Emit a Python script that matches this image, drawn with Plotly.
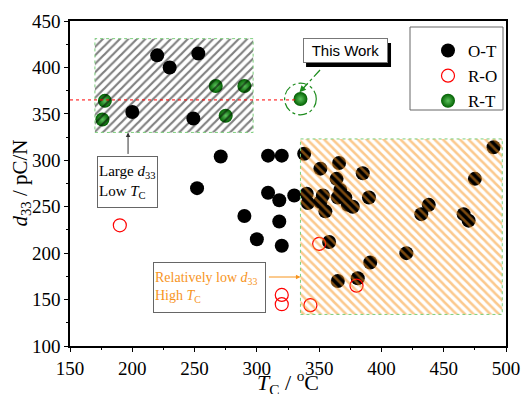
import plotly.graph_objects as go

# ---------------- data ----------------
ot_tc = [220, 230, 253, 200, 249,
         271, 252, 309, 320, 309, 318, 330, 290, 318, 300, 320,
         338, 351, 366, 385, 364, 340, 341, 353, 355, 351, 367, 365, 371, 373, 377, 390,
         358, 420, 391, 365, 381, 438, 432, 466, 470, 475, 490]
ot_d33 = [413, 400, 415, 352, 345,
          304, 270, 305, 305, 265, 257, 262, 240, 234, 215, 208,
          307, 291, 297, 286, 280, 264, 254, 262, 245, 255, 268, 260, 260, 252, 250, 260,
          212, 200, 190, 170, 173, 252, 242, 242, 235, 280, 314]

ro_tc = [190, 320, 320, 343, 350, 380]
ro_d33 = [230, 155, 145, 144, 210, 165]

rt_tc = [178, 176, 267, 290, 275, 335]
rt_d33 = [364, 344, 380, 380, 348, 366]

this_work = (335, 366)

# regions: [x0, x1, y0, y1]
region_large = [170, 297, 330, 431]
region_high = [335, 497, 134, 323]

x_ticks = [150, 200, 250, 300, 350, 400, 450, 500]
y_ticks = [100, 150, 200, 250, 300, 350, 400, 450]

SERIF = "Liberation Serif"
ORANGE = "#f7941d"
GREEN_BORDER = "#7ccf7c"

fig = go.Figure()

fig.add_trace(go.Scatter(x=ot_tc, y=ot_d33, mode="markers", name="O-T",
                         marker=dict(symbol="circle", size=14, color="black",
                                     line=dict(width=0))))
fig.add_trace(go.Scatter(x=ro_tc, y=ro_d33, mode="markers", name="R-O",
                         marker=dict(symbol="circle-open", size=13, color="red",
                                     line=dict(width=1.2, color="red"))))
fig.add_trace(go.Scatter(x=rt_tc, y=rt_d33, mode="markers", name="R-T",
                         marker=dict(symbol="circle", size=14, color="#005f00",
                                     gradient=dict(type="radial", color="#5cc25c"),
                                     line=dict(width=0))))


def rect_trace(r, shape, color, solidity):
    x0, x1, y0, y1 = r
    return go.Scatter(x=[x0, x1, x1, x0, x0], y=[y0, y0, y1, y1, y0],
                      mode="lines", fill="toself", fillcolor="rgba(0,0,0,0)",
                      fillpattern=dict(shape=shape, fgcolor=color,
                                       bgcolor="rgba(0,0,0,0)", size=6,
                                       solidity=solidity),
                      line=dict(color=GREEN_BORDER, width=1, dash="dot"),
                      showlegend=False, hoverinfo="skip")


fig.add_trace(rect_trace(region_large, "/", "black", 0.36))
fig.add_trace(rect_trace(region_high, "\\", ORANGE, 0.42))

shapes = []
# red dotted reference line at This Work d33
shapes.append(dict(type="line", xref="x", yref="y", x0=150, x1=332,
                   y0=this_work[1] - 1, y1=this_work[1] - 1,
                   line=dict(color="red", width=1, dash="dot")))
# dash-dot circle around This Work
shapes.append(dict(type="circle", xref="x", yref="y",
                   x0=this_work[0] - 12.7, x1=this_work[0] + 12.7,
                   y0=this_work[1] - 17, y1=this_work[1] + 17,
                   line=dict(color="#1e8c1e", width=1.2, dash="dashdot")))
# green dash-dot arrow line
shapes.append(dict(type="line", xref="x", yref="y", x0=350.7, y0=397.2,
                   x1=336.5, y1=376.5,
                   line=dict(color="#1e8c1e", width=1.3, dash="dashdot")))
# This Work shadow
shapes.append(dict(type="rect", xref="x", yref="y", x0=339.5, x1=407.7,
                   y0=400.5, y1=426.3, fillcolor="black", line=dict(width=0)))
# legend border (paper coords)
shapes.append(dict(type="rect", xref="paper", yref="paper",
                   x0=(410 - 70) / 436, x1=(503 - 70) / 436,
                   y0=(346 - 110) / 325, y1=(346 - 27) / 325,
                   line=dict(color="#666666", width=1), fillcolor="rgba(0,0,0,0)"))

annotations = []
annotations.append(dict(xref="x", yref="y", x=370.8, y=417.7, text="This Work",
                        showarrow=False, width=83, height=23, bgcolor="white",
                        bordercolor="#777777", borderwidth=1, borderpad=0,
                        font=dict(family="Liberation Sans", size=15, color="black")))
annotations.append(dict(xref="x", yref="y", x=196.2, y=276.6,
                        text="Large <i>d</i><sub>33</sub><br>Low <i>T</i><sub>C</sub>",
                        showarrow=False, width=57, height=48, align="left",
                        bgcolor="white", bordercolor="#666666", borderwidth=1,
                        borderpad=1,
                        font=dict(family=SERIF, size=15, color="black")))
annotations.append(dict(xref="x", yref="y", x=262, y=162.5,
                        text="Relatively low <i>d</i><sub>33</sub><br>High <i>T</i><sub>C</sub>",
                        showarrow=False, width=109, height=47, align="left",
                        bgcolor="white", bordercolor="#666666", borderwidth=1,
                        borderpad=1,
                        font=dict(family=SERIF, size=14, color=ORANGE)))
# arrows
annotations.append(dict(xref="x", yref="y", x=196.6, y=region_large[2], text="",
                        showarrow=True, ax=0, ay=23, arrowhead=2, arrowsize=0.9,
                        arrowwidth=1, arrowcolor="#333333"))
annotations.append(dict(xref="x", yref="y", x=region_high[0], y=174.3, text="",
                        showarrow=True, ax=-33, ay=0, arrowhead=2, arrowsize=0.9,
                        arrowwidth=1, arrowcolor=ORANGE))
annotations.append(dict(xref="x", yref="y", x=334.2, y=373.3, text="",
                        showarrow=True, ax=6, ay=-6.5, arrowhead=2, arrowsize=1,
                        arrowwidth=1.3, arrowcolor="#1e8c1e"))
# axis titles
annotations.append(dict(xref="paper", yref="paper", x=0.5, y=(346 - 365) / 325,
                        xanchor="center", yanchor="top", showarrow=False,
                        text="<i>T</i><sub>C</sub> / <sup>o</sup>C",
                        font=dict(family=SERIF, size=22, color="black")))
annotations.append(dict(xref="paper", yref="paper", x=(20 - 70) / 436, y=0.5,
                        xanchor="center", yanchor="middle", showarrow=False,
                        textangle=-90,
                        text="<i>d</i><sub>33</sub> / pC/N",
                        font=dict(family=SERIF, size=21, color="black")))

axis_common = dict(showgrid=False, zeroline=False, showline=True, mirror=True,
                   linecolor="black", linewidth=1.5, ticks="outside", ticklen=4,
                   tickwidth=1.2, tickcolor="black",
                   tickfont=dict(family=SERIF, size=19, color="black"))

fig.update_layout(
    width=523, height=394,
    margin=dict(l=70, r=17, t=21, b=48, autoexpand=False),
    paper_bgcolor="white", plot_bgcolor="white",
    xaxis=dict(range=[150, 500], tickvals=x_ticks,
               minor=dict(ticks="outside", ticklen=2.5, dtick=25, tickcolor="black"),
               **axis_common),
    yaxis=dict(range=[100, 450], tickvals=y_ticks,
               minor=dict(ticks="outside", ticklen=2.5, dtick=25, tickcolor="black"),
               **axis_common),
    legend=dict(x=(503 - 70) / 436, y=(346 - 33) / 325, xanchor="right", yanchor="top",
                bgcolor="rgba(0,0,0,0)", borderwidth=0,
                font=dict(family=SERIF, size=17, color="black"),
                itemwidth=30, tracegroupgap=0),
    shapes=shapes,
    annotations=annotations,
    showlegend=True,
)

fig.write_html("out.html")
